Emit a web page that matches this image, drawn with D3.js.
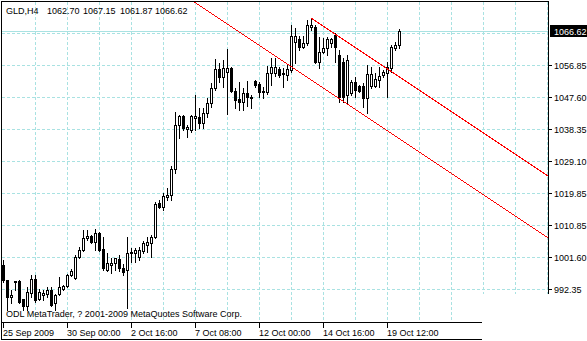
<!DOCTYPE html>
<html>
<head>
<meta charset="utf-8">
<script src="https://cdn.jsdelivr.net/npm/d3@7"></script>
<style>
  body { margin: 0; background: #fff; }
  svg { display: block; }
  text { font-family: "Liberation Sans", Arial, sans-serif; font-size: 9px; fill: #000; }
</style>
</head>
<body>
<svg id="chart" width="587" height="341"></svg>
<script>
// GLD H4, one bar every 4 hours, oldest first
const opens = [999.27, 994.95, 990.05, 994.66, 994.66, 989.48, 987.46, 991.21, 995.24, 989.48,
  990.63, 990.92, 992.07, 988.33, 990.92, 992.36, 993.22, 996.39, 995.52, 1001.57,
  1003.58, 1007.04, 1007.62, 1005.89, 1008.48, 1003.87, 997.83, 999.27, 999.84, 1000.99,
  998.40, 997.83, 1002.72, 1002.72, 1001.57, 1003.30, 1005.02, 1005.60, 1007.33, 1017.12,
  1015.96, 1018.84, 1019.42, 1026.90, 1039.57, 1042.16, 1038.42, 1038.13, 1041.59, 1041.88,
  1040.15, 1043.03, 1045.91, 1050.22, 1055.69, 1053.39, 1054.83, 1055.98, 1049.36, 1047.06,
  1046.19, 1048.79, 1047.63, 1052.24, 1051.38, 1049.07, 1049.07, 1054.54, 1054.54, 1055.69,
  1054.54, 1053.97, 1055.41, 1063.47, 1064.33, 1062.03, 1063.18, 1067.79, 1067.79, 1057.71,
  1060.59, 1061.74, 1063.18, 1065.48, 1059.73, 1057.71, 1048.21, 1048.79, 1051.95, 1050.80,
  1050.80, 1047.35, 1050.80, 1050.80, 1052.53, 1053.97, 1054.54, 1055.98, 1061.74, 1062.70];
const highs = [1000.71, 994.95, 992.07, 994.66, 994.95, 989.48, 992.93, 996.39, 996.39, 992.36,
  992.07, 992.93, 992.93, 990.92, 995.81, 993.51, 996.68, 998.11, 1002.15, 1004.45,
  1009.34, 1009.34, 1007.90, 1009.63, 1008.77, 1007.33, 1002.72, 1001.28, 1001.28, 1002.15,
  999.55, 1007.33, 1004.16, 1004.16, 1004.45, 1006.18, 1007.33, 1007.90, 1017.40, 1017.98,
  1020.00, 1021.43, 1027.77, 1043.32, 1042.45, 1042.45, 1039.57, 1042.45, 1048.21, 1044.47,
  1044.47, 1047.35, 1051.66, 1058.57, 1057.42, 1058.29, 1061.45, 1056.27, 1050.22, 1051.95,
  1050.22, 1052.24, 1048.21, 1052.53, 1051.95, 1050.51, 1056.56, 1058.86, 1058.86, 1056.27,
  1055.98, 1057.13, 1068.36, 1067.50, 1065.20, 1065.20, 1069.80, 1070.38, 1068.36, 1064.91,
  1064.62, 1064.91, 1064.62, 1066.06, 1061.16, 1058.86, 1059.73, 1052.53, 1053.39, 1051.09,
  1051.66, 1056.85, 1056.27, 1054.54, 1056.27, 1055.41, 1057.71, 1062.60, 1063.47, 1067.15];
const lows = [994.37, 986.31, 988.33, 992.07, 988.33, 986.31, 986.31, 990.05, 988.61, 989.19,
  989.19, 990.05, 987.46, 986.31, 990.63, 992.07, 992.93, 996.10, 995.24, 1001.28,
  1003.30, 1006.46, 1005.60, 1003.58, 1003.30, 997.83, 997.54, 996.96, 997.83, 997.54,
  996.39, 986.89, 1000.13, 1000.13, 1000.71, 1002.72, 1003.01, 1001.57, 1007.04, 1015.68,
  1015.10, 1017.98, 1017.98, 1025.75, 1035.83, 1038.13, 1036.12, 1037.56, 1038.13, 1038.71,
  1038.71, 1041.88, 1044.75, 1049.65, 1051.95, 1050.51, 1042.74, 1049.07, 1044.47, 1043.89,
  1043.89, 1045.04, 1044.47, 1050.51, 1047.63, 1047.35, 1048.50, 1051.09, 1053.68, 1053.39,
  1050.51, 1052.53, 1054.83, 1057.42, 1061.16, 1061.74, 1062.60, 1066.92, 1057.42, 1055.98,
  1060.30, 1059.73, 1062.03, 1057.71, 1046.19, 1046.19, 1045.91, 1048.21, 1047.63, 1049.07,
  1044.75, 1043.03, 1050.22, 1050.51, 1050.51, 1053.39, 1047.63, 1054.83, 1061.16, 1061.87];
const closes = [994.95, 990.05, 990.63, 994.37, 988.61, 987.46, 991.49, 995.24, 989.19, 991.49,
  991.21, 992.07, 987.75, 990.63, 992.93, 993.22, 996.39, 997.54, 1001.57, 1003.58,
  1007.04, 1007.62, 1005.89, 1008.48, 1003.58, 998.40, 999.84, 999.84, 1001.28, 998.40,
  997.25, 1002.72, 1003.01, 1003.58, 1003.58, 1005.60, 1005.89, 1007.33, 1016.83, 1015.96,
  1019.13, 1019.42, 1026.90, 1039.57, 1042.16, 1038.71, 1039.00, 1042.16, 1042.16, 1040.15,
  1043.03, 1045.91, 1050.22, 1055.69, 1053.39, 1055.98, 1055.98, 1049.36, 1046.77, 1046.19,
  1048.79, 1047.63, 1047.35, 1051.09, 1049.07, 1049.36, 1054.54, 1056.27, 1056.27, 1053.97,
  1054.26, 1055.69, 1065.20, 1065.20, 1062.03, 1063.18, 1068.36, 1068.36, 1057.71, 1060.59,
  1061.74, 1064.33, 1064.33, 1062.03, 1047.63, 1047.63, 1058.29, 1051.95, 1049.65, 1049.36,
  1047.35, 1054.26, 1054.26, 1052.82, 1053.68, 1054.83, 1056.27, 1062.03, 1062.60, 1066.62];

const priceTicks = [992.35, 1001.60, 1010.85, 1019.85, 1029.10, 1038.35, 1047.60, 1056.85, 1066.10];
const timeLabels = ["25 Sep 2009", "30 Sep 00:00", "2 Oct 16:00", "7 Oct 08:00", "12 Oct 00:00", "14 Oct 16:00", "19 Oct 12:00"];
const timeLabelBars = [0, 16, 32, 48, 64, 80, 96];
const headerTexts = ["GLD,H4", "1062.70", "1067.15", "1061.87", "1066.62"];
const copyright = "ODL MetaTrader, ? 2001-2009 MetaQuotes Software Corp.";
// equidistant channel, [bar index, price]
const channelUpper = [[77, 1070.4], [140, 1022.0]];
const channelLower = [[40, 1081.0], [140, 1004.2]];

const plot = { left: 2, right: 548, top: 2, bottom: 322, axisBottom: 339 };
const gridColor = "#a9e2e2";

const svg = d3.select("#chart");
const x = d3.scaleLinear().domain([0, 136]).range([3, 547]);
const y = d3.scaleLinear().domain([992.35, 1056.85]).range([289, 65]);
const py = (p) => Math.round(y(p));

svg.append("defs").append("clipPath").attr("id", "clip")
  .append("rect").attr("x", plot.left).attr("y", plot.top)
  .attr("width", plot.right - plot.left).attr("height", plot.bottom - plot.top);

// grid
const grid = svg.append("g").attr("stroke", gridColor).attr("stroke-dasharray", "3,2").attr("shape-rendering", "crispEdges");
grid.selectAll("line.v").data(d3.range(8, 137, 8)).join("line")
  .attr("x1", (d) => x(d) + 0.5).attr("x2", (d) => x(d) + 0.5)
  .attr("y1", plot.top).attr("y2", plot.bottom);
grid.selectAll("line.h").data(priceTicks).join("line")
  .attr("x1", plot.left).attr("x2", plot.right)
  .attr("y1", (d) => py(d) + 0.5).attr("y2", (d) => py(d) + 0.5);

// current price line
const lastClose = closes[closes.length - 1];
svg.append("line").attr("stroke", gridColor).attr("shape-rendering", "crispEdges")
  .attr("x1", plot.left).attr("x2", plot.right)
  .attr("y1", py(lastClose) + 0.5).attr("y2", py(lastClose) + 0.5);

// candles
const bars = d3.range(opens.length).map((i) => ({ i, o: opens[i], h: highs[i], l: lows[i], c: closes[i] }));
const candles = svg.append("g").attr("clip-path", "url(#clip)").attr("shape-rendering", "crispEdges");
const cg = candles.selectAll("g").data(bars).join("g");
cg.append("line")
  .attr("x1", (d) => x(d.i) + 0.5).attr("x2", (d) => x(d.i) + 0.5)
  .attr("y1", (d) => py(d.h)).attr("y2", (d) => py(d.l) + 1)
  .attr("stroke", "#000");
cg.append("rect")
  .attr("x", (d) => (d.c > d.o ? x(d.i) - 0.5 : x(d.i) - 1))
  .attr("y", (d) => (d.c > d.o ? py(d.c) + 0.5 : py(d.o)))
  .attr("width", (d) => (d.c > d.o ? 2 : 3))
  .attr("height", (d) => (d.c > d.o ? Math.max(py(d.o) - py(d.c), 1) : Math.max(py(d.c) - py(d.o) + 1, 1)))
  .attr("fill", (d) => (d.c > d.o ? "#fff" : "#000"))
  .attr("stroke", (d) => (d.c > d.o ? "#000" : "none"));

// channel
const chLine = d3.line().x((d) => x(d[0])).y((d) => y(d[1]));
svg.append("g").attr("clip-path", "url(#clip)")
  .selectAll("path").data([channelUpper, channelLower]).join("path")
  .attr("d", chLine).attr("fill", "none").attr("stroke", "#f00").attr("stroke-width", 1)
  .attr("shape-rendering", "crispEdges");

// frame
const frame = svg.append("g").attr("stroke", "#000").attr("shape-rendering", "crispEdges");
frame.append("line").attr("x1", 1.5).attr("x2", 1.5).attr("y1", 1).attr("y2", plot.axisBottom + 1);
frame.append("line").attr("x1", 1).attr("x2", plot.right + 1).attr("y1", 1.5).attr("y2", 1.5);
frame.append("line").attr("x1", plot.right + 0.5).attr("x2", plot.right + 0.5).attr("y1", 1).attr("y2", plot.bottom);
frame.append("line").attr("x1", 1).attr("x2", plot.right + 1).attr("y1", plot.bottom + 0.5).attr("y2", plot.bottom + 0.5);
frame.append("line").attr("x1", 1).attr("x2", plot.right + 1).attr("y1", plot.axisBottom + 0.5).attr("y2", plot.axisBottom + 0.5);

// time axis
const tAxis = svg.append("g");
tAxis.selectAll("line").data(timeLabelBars).join("line")
  .attr("x1", (d) => x(d) + 0.5).attr("x2", (d) => x(d) + 0.5)
  .attr("y1", plot.bottom).attr("y2", plot.bottom + 6)
  .attr("stroke", "#000").attr("shape-rendering", "crispEdges");
tAxis.selectAll("text").data(timeLabels).join("text")
  .attr("x", (d, k) => x(timeLabelBars[k]))
  .attr("y", 336)
  .text((d) => d);

// price axis
const pAxis = svg.append("g");
const shown = priceTicks.filter((p) => Math.abs(py(p) - py(lastClose)) > 10);
pAxis.selectAll("line").data(shown).join("line")
  .attr("x1", plot.right).attr("x2", plot.right + 4)
  .attr("y1", (d) => py(d) + 0.5).attr("y2", (d) => py(d) + 0.5)
  .attr("stroke", "#000").attr("shape-rendering", "crispEdges");
pAxis.selectAll("text").data(shown).join("text")
  .attr("x", 554).attr("y", (d) => py(d) + 4)
  .text((d) => d.toFixed(2));
pAxis.append("rect").attr("x", 550).attr("y", py(lastClose) - 6).attr("width", 37).attr("height", 12).attr("fill", "#000");
pAxis.append("text").attr("x", 554).attr("y", py(lastClose) + 4).style("fill", "#fff").text(lastClose.toFixed(2));

// blank corner at bottom right
svg.append("rect").attr("x", 482).attr("y", 294).attr("width", 105).attr("height", 47).attr("fill", "#fff");

// header and copyright
const headerX = [6, 47, 83, 120, 155];
svg.selectAll("text.hdr").data(headerTexts).join("text").attr("class", "hdr")
  .attr("x", (d, k) => headerX[k]).attr("y", 14).text((d) => d);
svg.append("text").attr("x", 6).attr("y", 317).text(copyright);
</script>
</body>
</html>
